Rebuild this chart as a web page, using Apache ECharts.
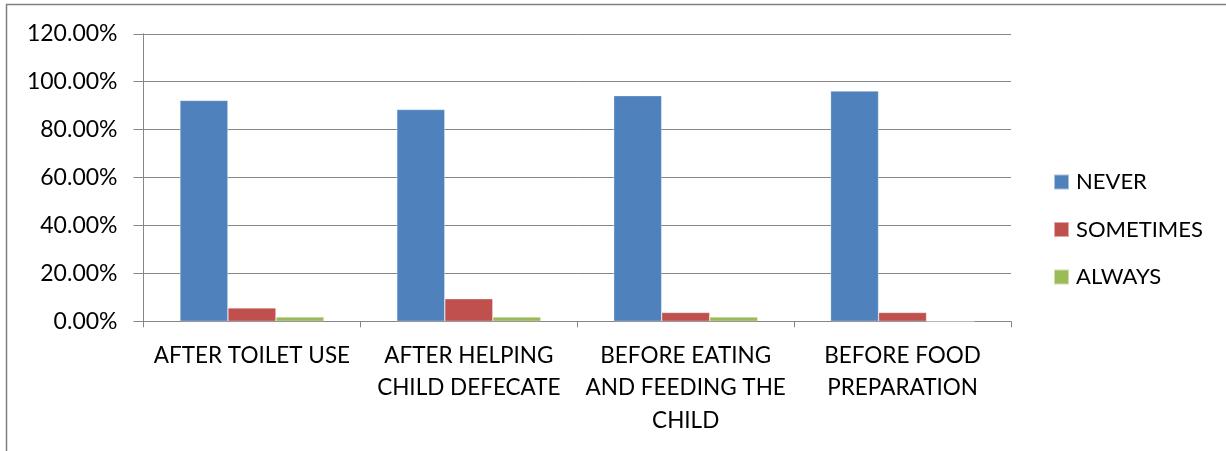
<!DOCTYPE html>
<html>
<head>
<meta charset="utf-8">
<script src="https://cdn.jsdelivr.net/npm/echarts@6/dist/echarts.min.js"></script>
<style>
  html, body { margin: 0; padding: 0; background: #fff; }
  #chart { width: 1226px; height: 451px; }
</style>
</head>
<body>
<div id="chart"></div>
<script>
// Hand-washing practice by occasion (share of respondents, %)
const categories = [
  'AFTER TOILET USE',
  'AFTER HELPING\nCHILD DEFECATE',
  'BEFORE EATING\nAND FEEDING THE\nCHILD',
  'BEFORE FOOD\nPREPARATION'
];
const seriesNames = ['NEVER', 'SOMETIMES', 'ALWAYS'];
const never = [92.2, 88.4, 94.2, 96.1];
const sometimes = [5.6, 9.4, 3.7, 3.7];
const always = [1.8, 1.8, 1.8, 0];
const yTicks = { min: 0, max: 120, interval: 20 };

const FONT = "Lato, 'Liberation Sans', sans-serif";
const AXIS_GRAY = '#868686';
const colors = ['#4F81BD', '#C0504D', '#9BBB59'];

const chart = echarts.init(document.getElementById('chart'), null, { renderer: 'canvas' });

const makeBar = (name, data, color) => ({
  name,
  type: 'bar',
  data,
  barGap: '0%',
  barCategoryGap: '33.6%',
  itemStyle: { color, borderColor: 'rgba(255,255,255,0.5)', borderWidth: 0.6 },
  emphasis: { disabled: true }
});

chart.setOption({
  animation: false,
  color: colors,
  textStyle: { fontFamily: FONT },
  graphic: [{
    type: 'rect',
    silent: true,
    shape: { x: 6.5, y: 4.5, width: 1300, height: 500 },
    style: { fill: 'none', stroke: '#7f7f7f', lineWidth: 1.5 }
  }],
  grid: { left: 143.5, right: 215, top: 33.8, bottom: 129.7, containLabel: false },
  legend: {
    orient: 'vertical',
    left: 1053,
    top: 171,
    padding: 0,
    itemWidth: 15,
    itemHeight: 15,
    itemGap: 25.5,
    icon: 'rect',
    data: seriesNames,
    textStyle: { fontFamily: FONT, fontSize: 22, color: '#000', padding: [0, 0, 0, 2] }
  },
  xAxis: {
    type: 'category',
    data: categories,
    axisLine: { show: true, lineStyle: { color: AXIS_GRAY, width: 1 } },
    axisTick: { show: true, length: 6, alignWithLabel: false, lineStyle: { color: AXIS_GRAY } },
    axisLabel: {
      interval: 0,
      margin: 18,
      color: '#000',
      fontFamily: FONT,
      fontSize: 22.5,
      lineHeight: 32.5
    }
  },
  yAxis: {
    type: 'value',
    min: yTicks.min,
    max: yTicks.max,
    interval: yTicks.interval,
    axisLine: { show: true, lineStyle: { color: AXIS_GRAY, width: 1 } },
    axisTick: { show: true, length: 10, lineStyle: { color: AXIS_GRAY } },
    splitLine: { show: true, lineStyle: { color: AXIS_GRAY, width: 1 } },
    axisLabel: {
      margin: 26,
      color: '#000',
      fontFamily: FONT,
      fontSize: 23,
      formatter: v => v.toFixed(2) + '%'
    }
  },
  series: [
    makeBar(seriesNames[0], never, colors[0]),
    makeBar(seriesNames[1], sometimes, colors[1]),
    makeBar(seriesNames[2], always, colors[2])
  ]
});
</script>
</body>
</html>
